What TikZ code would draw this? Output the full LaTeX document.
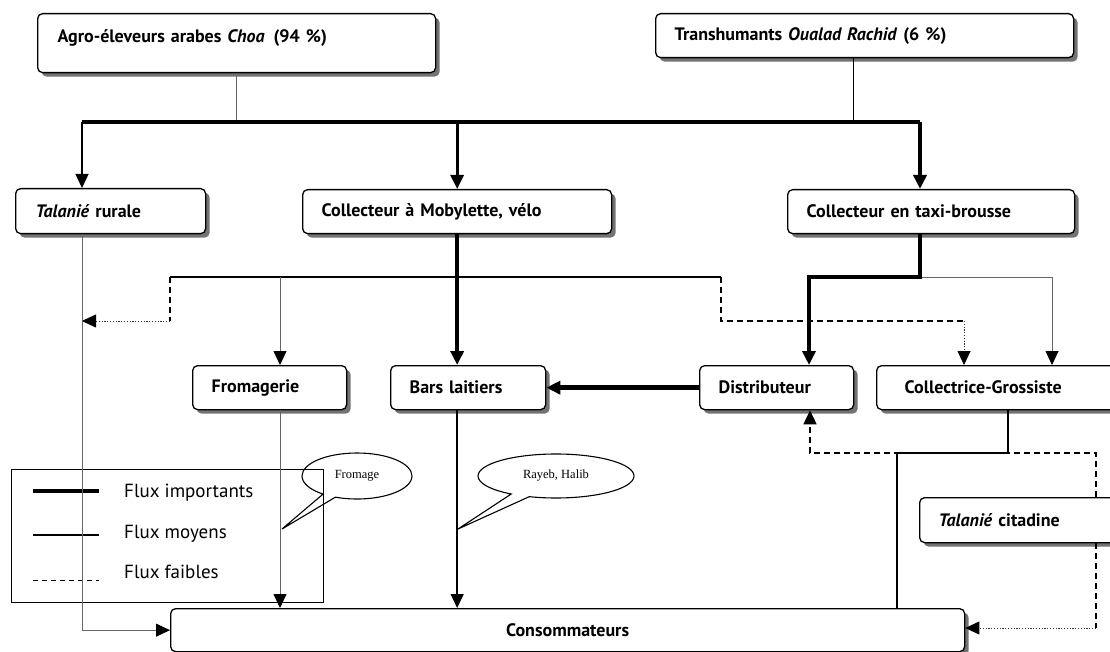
\documentclass[tikz,border=0pt]{standalone}
\usepackage{fontspec}
\setmainfont{PT Sans}
\newfontfamily\calloutfont{Liberation Serif}
\usetikzlibrary{arrows.meta,shadows,shapes.callouts,shapes.geometric}
\tikzset{
  box/.style={draw, line width=1.3pt, rounded corners=5pt, fill=white,
    drop shadow={shadow xshift=4pt, shadow yshift=-4pt, fill=black!55, opacity=1},
    font=\bfseries\fontsize{18}{21}\selectfont, anchor=north west, inner ysep=0pt, align=left},
  tip/.style={-{Triangle[length=14pt,width=13pt,color=black]}},
  medium/.style={line width=1.4pt},
  thinl/.style={line width=0.8pt, black!60},
  heavy/.style={line width=4.5pt},
  midheavy/.style={line width=2.8pt},
  barline/.style={line width=3.5pt},
  faible/.style={line width=1.4pt, dash pattern=on 6pt off 4pt},
  dotl/.style={line width=0.8pt, black!80, dash pattern=on 1.2pt off 1.6pt},
  legtext/.style={font=\fontsize{19}{22}\selectfont, anchor=base west, inner sep=0pt},
  bubble/.style={ellipse callout, draw, line width=1.1pt, font=\calloutfont\fontsize{12.5}{14}\selectfont, inner sep=0pt},
}
\begin{document}
\begin{tikzpicture}[x=1pt,y=-1pt]
\useasboundingbox (0,0) rectangle (1110,652);

% boxes
\node[box, text width=358pt, inner xsep=20pt, minimum height=59pt, text depth=14pt] (agro) at (37,13) {Agro-éleveurs arabes \textit{Choa}\enspace(94 \%)};
\node[box, text width=380pt, inner xsep=19pt, minimum height=44pt] (trans) at (655,13) {Transhumants \textit{Oualad Rachid} (6 \%)};
\node[box, text width=150pt, inner xsep=20pt, minimum height=45pt] (talr) at (15,188) {\textit{Talanié} rurale};
\node[box, text width=271pt, inner xsep=19pt, minimum height=44pt] (colm) at (302,189) {Collecteur à Mobylette, vélo};
\node[box, text width=249pt, inner xsep=19pt, minimum height=44pt] (taxi) at (787,189) {Collecteur en taxi-brousse};
\node[box, text width=116pt, inner xsep=19pt, minimum height=44pt] (from) at (192,365) {Fromagerie};
\node[box, text width=117pt, inner xsep=19pt, minimum height=44pt] (bars) at (390,365) {Bars laitiers};
\node[box, text width=116pt, inner xsep=19pt, minimum height=44pt] (dist) at (699,365) {Distributeur};
\node[box, text width=206pt, inner xsep=28pt, minimum height=44pt] (coll) at (876,365) {Collectrice-Grossiste};
\node[box, text width=162pt, inner xsep=19pt, minimum height=45pt] (tcit) at (919,497) {\textit{Talanié} citadine};
\node[box, text width=774pt, inner xsep=10pt, minimum height=43pt, align=center] (cons) at (170,608) {Consommateurs};

% legend
\node[draw, line width=1.2pt, minimum width=312pt, minimum height=133pt, anchor=north west, inner sep=0pt] (legend) at (11,469) {};
\coordinate (l1a) at (33,491); \coordinate (l1b) at (99,491);
\coordinate (l2a) at (33,535); \coordinate (l2b) at (99,535);
\coordinate (l3a) at (33,580); \coordinate (l3b) at (99,580);
\draw[heavy] (l1a) -- (l1b);
\draw[medium, line width=2pt] (l2a) -- (l2b);
\draw[line width=1pt, dash pattern=on 5pt off 4pt] (l3a) -- (l3b);
\node[legtext] (lt1) at (124,497) {Flux importants};
\node[legtext] (lt2) at (124,538) {Flux moyens};
\node[legtext] (lt3) at (124,578) {Flux faibles};

% top level
\coordinate (barL) at (82,122);
\coordinate (barR) at (920,122);
\draw[thinl] (agro.south) -- (agro.south |- barL);
\draw[line width=1pt] ([xshift=-11pt]trans.south) -- ([xshift=-11pt]trans.south |- barL);
\draw[barline] (barL) -- (barR);
\draw[medium, tip] (barL) -- (barL |- talr.north);
\draw[midheavy, tip] (colm.north |- barL) -- (colm.north);
\draw[heavy, tip] (barR) -- (barR |- taxi.north);

% Talanie rurale to consommateurs
\draw[thinl, tip] (barL |- talr.south) -- (barL |- cons.west) -- (cons.west);

% collecteur mobylette
\coordinate (m1) at (170,277);
\coordinate (m2) at (721,277);
\coordinate (m1d) at (170,321);
\coordinate (m2d) at (721,321);
\coordinate (m3) at (964,321);
\coordinate (mf) at (280,277);
\draw[medium] (m1) -- (m2);
\draw[faible] (m1) -- (m1d);
\draw[dotl, tip] (m1d) -- (m1d -| barL);
\draw[thinl, tip] (mf) -- (mf |- from.north);
\draw[faible] (m2) -- (m2d) -- (m3);
\draw[dotl, tip] (m3) -- (m3 |- coll.north);
\draw[heavy, tip] (colm.south) -- (colm.south |- bars.north);

% collecteur taxi
\coordinate (t1) at (920,277);
\coordinate (t2) at (809,277);
\coordinate (t3) at (1052,277);
\draw[thinl, tip] (t1) -- (t3) -- (t3 |- coll.north);
\draw[heavy, tip] (barR |- taxi.south) -- (t1) -- (t2) -- (t2 |- dist.north);

% distributeur to bars
\draw[heavy, tip] (dist.west) -- (bars.east);

% to consommateurs
\draw[thinl, tip] (mf |- from.south) -- (mf |- cons.north);
\draw[medium, tip] (colm.south |- bars.south) -- (colm.south |- cons.north);

% talanie citadine
\coordinate (d1) at (1096,453);
\coordinate (d2) at (810,453);
\coordinate (d3) at (1096,628);
\draw[faible, tip] (d1 |- tcit.north) -- (d1) -- (d2) -- (d2 |- dist.south);
\draw[faible] (d1 |- tcit.south) -- (d3);
\draw[dotl, tip] (d3) -- (d3 -| cons.east);

% collectrice to consommateurs
\coordinate (c1) at (1008,453);
\coordinate (c2) at (897,453);
\draw[line width=1.1pt] (c1 |- coll.south) -- (c1) -- (c2) -- (c2 |- cons.north);

% callouts
\node[bubble, minimum width=110pt, minimum height=46pt, callout absolute pointer={(282,529)}] (cfrom) at (357,476) {Fromage};
\node[bubble, minimum width=156pt, minimum height=44pt, callout absolute pointer={(458,529)}] (cray) at (556,476) {Rayeb, Halib};
\end{tikzpicture}
\end{document}
